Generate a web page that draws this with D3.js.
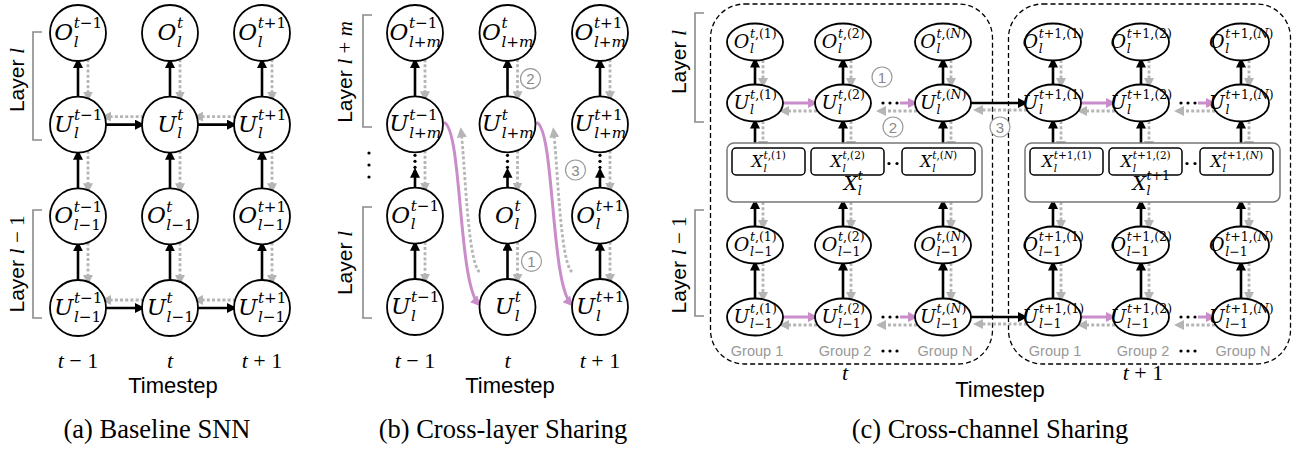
<!DOCTYPE html>
<html>
<head>
<meta charset="utf-8">
<script src="https://cdn.jsdelivr.net/npm/d3@7"></script>
<style>body{margin:0;background:#fff}</style>
</head>
<body>
<svg id="fig"></svg>
<script>
// ---- data ----
var stepsA=["t−1","t","t+1"];
var ticksA=["t − 1","t","t + 1"];
var rowsA=[["O","l"],["U","l"],["O","l−1"],["U","l−1"]];
var layersA=["l","l − 1"];

var stepsB=["t−1","t","t+1"];
var ticksB=["t − 1","t","t + 1"];
var rowsB=[["O","l+m"],["U","l+m"],["O","l"],["U","l"]];
var layersB=["l + m","l"];

var stepsC=["t","t+1"];
var ticksC=["t","t + 1"];
var groupsC=["(1)","(2)","(N)"];
var groupNames=["Group 1","Group 2","Group N"];
var rowsC=[["O","l"],["U","l"],["X","l"],["O","l−1"],["U","l−1"]];
var layersC=["l","l − 1"];

var captions=["(a) Baseline SNN","(b) Cross-layer Sharing","(c) Cross-channel Sharing"];

// ---- setup ----
var NODE="'DejaVu Serif',serif";
var MATH="'Liberation Serif','DejaVu Serif',serif";
var SANS="'Liberation Sans',Arial,sans-serif";
var GRAY="#b5b5b5", PINK="#c98dca", BR="#8a8a8a";

var svg=d3.select("#fig").attr("width",1302).attr("height",451);
var defs=svg.append("defs");
function marker(id,color){
  defs.append("marker").attr("id",id)
    .attr("viewBox","0 0 10 10").attr("refX",7).attr("refY",5)
    .attr("markerWidth",10).attr("markerHeight",10)
    .attr("markerUnits","userSpaceOnUse").attr("orient","auto")
    .append("path").attr("d","M0,0L10,5L0,10z").attr("fill",color);
}
marker("hb","#000");marker("hg",GRAY);marker("hp",PINK);

function line(g,x1,y1,x2,y2,kind){
  var l=g.append("line").attr("x1",x1).attr("y1",y1).attr("x2",x2).attr("y2",y2);
  style(l,kind);
  return l;
}
function curve(g,d,kind){style(g.append("path").attr("d",d).attr("fill","none"),kind);}
function style(s,kind){
  if(kind=="b") s.attr("stroke","#000").attr("stroke-width",2.6).attr("marker-end","url(#hb)");
  if(kind=="g") s.attr("stroke",GRAY).attr("stroke-width",2.8).attr("stroke-dasharray","3,2.2").attr("marker-end","url(#hg)");
  if(kind=="p") s.attr("stroke",PINK).attr("stroke-width",3).attr("marker-end","url(#hp)");
}
function mathSpans(sel,str){
  str.split(/([A-Za-z]+)/).forEach(function(p){
    if(p==="")return;
    sel.append("tspan").attr("font-style",/[A-Za-z]/.test(p)?"italic":"normal").text(p);
  });
}
// base letter with stacked superscript / subscript
function nodeLabel(g,cx,cy,base,sup,sub,F){
  var s=F*0.66;
  var t=g.append("text").attr("font-family",NODE).attr("fill","#000");
  var b=t.append("tspan").attr("x",0).attr("y",0).attr("font-size",F);mathSpans(b,base);
  var wb=b.node().getComputedTextLength();
  var t1=t.append("tspan").attr("x",wb+0.5).attr("y",-F*0.5).attr("font-size",s);mathSpans(t1,sup);
  var t2=t.append("tspan").attr("x",wb+0.5).attr("y",F*0.3).attr("font-size",s);mathSpans(t2,sub);
  var w=wb+Math.max(t1.node().getComputedTextLength(),t2.node().getComputedTextLength());
  t.attr("transform","translate("+(cx-w/2)+","+(cy+F*0.3)+")");
}
function layerLabel(g,x,y,sub){
  var t=g.append("text").attr("transform","translate("+x+","+y+") rotate(-90)")
    .attr("text-anchor","middle").attr("font-size",21).attr("font-family",SANS);
  t.append("tspan").text("Layer ");
  mathSpans(t.append("tspan").attr("font-family",MATH),sub);
}
function bracket(g,x,y1,y2){
  g.append("path").attr("d","M"+(x+9)+","+y1+"H"+x+"V"+y2+"H"+(x+9))
    .attr("fill","none").attr("stroke",BR).attr("stroke-width",1.6);
}
function circled(g,x,y,n){
  g.append("circle").attr("cx",x).attr("cy",y).attr("r",10).attr("fill","#fff")
    .attr("stroke","#999").attr("stroke-width",1.2);
  g.append("text").attr("x",x).attr("y",y+5.5).attr("text-anchor","middle")
    .attr("font-size",15).attr("font-family",SANS).attr("fill","#888").text(n);
}
function dots(g,x,y,n,dx,dy){
  for(var i=0;i<n;i++) g.append("circle").attr("cx",x+i*dx).attr("cy",y+i*dy).attr("r",1.6).attr("fill","#000");
}
function tickText(g,x,y,str,F){
  var t=g.append("text").attr("x",x).attr("y",y).attr("text-anchor","middle")
    .attr("font-size",F).attr("font-family",MATH);
  mathSpans(t,str);
}
function plain(g,x,y,str,F,fam,fill){
  g.append("text").attr("x",x).attr("y",y).attr("text-anchor","middle")
    .attr("font-size",F).attr("font-family",fam).attr("fill",fill||"#000").text(str);
}

// ---- panel (a) ----
var R=28, R2=Math.sqrt(R*R-100);
var gA=svg.append("g");
var xA=d3.scalePoint().domain(d3.range(stepsA.length)).range([78,262]);
var yA=d3.scalePoint().domain(d3.range(rowsA.length)).range([33,308]);
d3.range(rowsA.length-1).forEach(function(r){
  d3.range(stepsA.length).forEach(function(c){
    var x=xA(c);
    line(gA,x,yA(r+1)-R,x,yA(r)+R,"b");
    line(gA,x+10,yA(r)+R2,x+10,yA(r+1)-R2,"g");
  });
});
[1,3].forEach(function(r){
  d3.range(stepsA.length-1).forEach(function(c){
    var y=yA(r);
    line(gA,xA(c)+R,y,xA(c+1)-R,y,"b");
    line(gA,xA(c+1)-R2,y-8,xA(c)+R2,y-8,"g");
  });
});
rowsA.forEach(function(row,r){
  stepsA.forEach(function(st,c){
    gA.append("circle").attr("cx",xA(c)).attr("cy",yA(r)).attr("r",R)
      .attr("fill","#fff").attr("stroke","#000").attr("stroke-width",1.8);
    nodeLabel(gA,xA(c),yA(r),row[0],st,row[1],23);
  });
});
bracket(gA,33,32,140);bracket(gA,33,210,318);
layerLabel(gA,24,80,layersA[0]);layerLabel(gA,24,264,layersA[1]);
ticksA.forEach(function(t,c){tickText(gA,xA(c),368,t,22);});
plain(gA,173,393,"Timestep",22,SANS);
plain(gA,157,438,captions[0],26.5,MATH);

// ---- panel (b) ----
var gB=svg.append("g");
var xB=d3.scalePoint().domain(d3.range(stepsB.length)).range([415,600]);
var yB=d3.scalePoint().domain(d3.range(rowsB.length)).range([33,307]);
[0,2].forEach(function(r){
  d3.range(stepsB.length).forEach(function(c){
    var x=xB(c);
    line(gB,x,yB(r+1)-R,x,yB(r)+R,"b");
    line(gB,x+10,yB(r)+R2,x+10,yB(r+1)-R2,"g");
  });
});
d3.range(stepsB.length).forEach(function(c){
  var x=xB(c);
  line(gB,x,yB(2)-R,x,yB(2)-R-17,"b");
  dots(gB,x,yB(1)+R+3,3,0,6);
  line(gB,x+10,yB(1)+R2,x+10,yB(2)-R2,"g");
});
d3.range(stepsB.length-1).forEach(function(c){
  var sx=xB(c)+R+1, sy=yB(1)-2, ex=xB(c+1)-29, ey=yB(3)-3;
  curve(gB,"M"+sx+","+sy+"C"+(sx+18)+","+(sy+6)+" "+(sx+14)+","+(ey-22)+" "+ex+","+ey,"p");
  var gx=xB(c+1)-28, gy=yB(3)-35, hx=xB(c)+R+18, hy=yB(1)+6;
  curve(gB,"M"+gx+","+gy+"C"+(gx-12)+","+(gy-10)+" "+(hx+4)+","+(hy+32)+" "+hx+","+hy,"g");
});
rowsB.forEach(function(row,r){
  stepsB.forEach(function(st,c){
    gB.append("circle").attr("cx",xB(c)).attr("cy",yB(r)).attr("r",R)
      .attr("fill","#fff").attr("stroke","#000").attr("stroke-width",1.8);
    nodeLabel(gB,xB(c),yB(r),row[0],st,row[1],23);
  });
});
circled(gB,xB(1)+23,(yB(0)+yB(1))/2,"2");
circled(gB,xB(1)+68,(yB(1)+yB(2))/2,"3");
circled(gB,xB(1)+24,(yB(2)+yB(3))/2,"1");
bracket(gB,363,15,127);bracket(gB,363,207,318);
dots(gB,369,153,3,0,12);
layerLabel(gB,352,72,layersB[0]);layerLabel(gB,352,263,layersB[1]);
ticksB.forEach(function(t,c){tickText(gB,xB(c),368,t,22);});
plain(gB,510,393,"Timestep",22,SANS);
plain(gB,503,438,captions[1],26.5,MATH);

// ---- panel (c) ----
var gC=svg.append("g");
var RX=28, RY=18.5;
var stepX=d3.scalePoint().domain(d3.range(stepsC.length)).range([755,1053]);
var colOff=d3.scaleOrdinal().domain(d3.range(groupsC.length)).range([0,88,188]);
var boxOff=d3.scaleOrdinal().domain(d3.range(groupsC.length)).range([-23,56,147]);
var yC=d3.scaleOrdinal().domain(d3.range(rowsC.length)).range([42,103,161.5,245,317]);
var BW=73, BH=27;
function cx(s,g){return stepX(s)+colOff(g);}

stepsC.forEach(function(st,s){
  var x0=stepX(s);
  gC.append("rect").attr("x",x0-44.5).attr("y",4).attr("width",282).attr("height",360)
    .attr("rx",34).attr("fill","none").attr("stroke","#000").attr("stroke-width",1.3)
    .attr("stroke-dasharray","5,3");
});
// vertical arrows
stepsC.forEach(function(st,s){
  groupsC.forEach(function(gr,g){
    var x=cx(s,g), bt=yC(2)-BH/2;
    line(gC,x,yC(1)-RY,x,yC(0)+RY,"b");
    line(gC,x+8,yC(0)+RY-0.5,x+8,yC(1)-RY+0.5,"g");
    line(gC,x,bt,x,yC(1)+RY,"b");
    line(gC,x+8,yC(1)+RY-0.5,x+8,bt,"g");
    line(gC,x,yC(3)-RY,x,202,"b");
    line(gC,x+8,202,x+8,yC(3)-RY+0.5,"g");
    line(gC,x,yC(4)-RY,x,yC(3)+RY,"b");
    line(gC,x+8,yC(3)+RY-0.5,x+8,yC(4)-RY+0.5,"g");
  });
});
// horizontal arrows
[1,4].forEach(function(r){
  var y=yC(r);
  stepsC.forEach(function(st,s){
    var a=cx(s,0),b=cx(s,1),c=cx(s,2);
    line(gC,a+RX,y,b-RX,y,"p");
    line(gC,b-RX+2,y+8,a+RX-1,y+8,"g");
    dots(gC,b+RX+12,y,3,7,0);
    line(gC,b+RX+29,y,c-RX,y,"p");
    line(gC,c-RX+2,y+8,b+RX+8,y+8,"g");
  });
  line(gC,cx(0,2)+RX,y,cx(1,0)-RX,y,"b");
  line(gC,cx(1,0)-RX+2,y+7,cx(0,2)+RX+5,y+7,"g");
});
// X boxes
stepsC.forEach(function(st,s){
  var x0=stepX(s);
  gC.append("rect").attr("x",x0-28).attr("y",143).attr("width",255).attr("height",59)
    .attr("rx",7).attr("fill","#fff").attr("stroke","#777").attr("stroke-width",1.5);
  groupsC.forEach(function(gr,g){
    var bx=x0+boxOff(g);
    gC.append("rect").attr("x",bx).attr("y",yC(2)-BH/2).attr("width",BW).attr("height",BH)
      .attr("rx",4).attr("fill","#fff").attr("stroke","#000").attr("stroke-width",1.5);
    nodeLabel(gC,bx+BW/2,yC(2)+1,rowsC[2][0],st+","+gr,rowsC[2][1],16);
  });
  dots(gC,x0+boxOff(1)+BW+5,yC(2)+2,2,8,0);
  nodeLabel(gC,x0+98,184,rowsC[2][0],st,rowsC[2][1],19);
});
// ellipses
[0,1,3,4].forEach(function(r){
  stepsC.forEach(function(st,s){
    groupsC.forEach(function(gr,g){
      gC.append("ellipse").attr("cx",cx(s,g)).attr("cy",yC(r)).attr("rx",RX).attr("ry",RY)
        .attr("fill","#fff").attr("stroke","#000").attr("stroke-width",1.8);
      nodeLabel(gC,cx(s,g),yC(r),rowsC[r][0],st+","+gr,rowsC[r][1],19);
    });
  });
});
stepsC.forEach(function(st,s){
  groupNames.forEach(function(n,g){plain(gC,cx(s,g)+2,356,n,14.5,SANS,"#999");});
  dots(gC,stepX(s)+128,351,3,7,0);
  tickText(gC,stepX(s)+90,380,ticksC[s],22);
});
circled(gC,882,77,"1");circled(gC,893,127,"2");circled(gC,1000,127,"3");
bracket(gC,695,13,122);bracket(gC,695,210,316);
layerLabel(gC,686,62,layersC[0]);layerLabel(gC,686,265,layersC[1]);
plain(gC,1000,397,"Timestep",22,SANS);
plain(gC,990,438,captions[2],26.5,MATH);
</script>
</body>
</html>
